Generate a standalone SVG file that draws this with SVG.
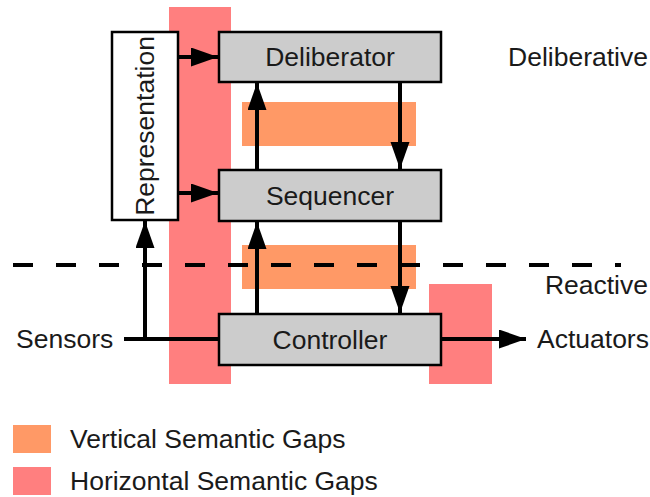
<svg xmlns="http://www.w3.org/2000/svg" width="650" height="497" viewBox="0 0 650 497">
<defs>
<marker id="ah" markerUnits="userSpaceOnUse" markerWidth="28" markerHeight="20" refX="27" refY="9.5" orient="auto">
<path d="M0,0 L27,9.5 L0,19 Z" fill="#000"/>
</marker>
<style>
.txt{font-family:"Liberation Sans",Arial,sans-serif;font-size:26.5px;fill:#1a1a1a}
.box{fill:#cccccc;stroke:#000;stroke-width:2.5}
.hg{fill:#ff7f7f}
.vg{fill:#ff9966}
.ln{stroke:#000;stroke-width:4;fill:none}
.ar{stroke:#000;stroke-width:4;fill:none;marker-end:url(#ah)}
</style>
</defs>
<rect width="650" height="497" fill="#fff"/>
<g id="gaps">
<rect class="hg" x="169" y="7" width="62" height="377"/>
<rect class="hg" x="429" y="284" width="63" height="100"/>
<rect class="vg" x="242" y="102" width="174" height="44"/>
<rect class="vg" x="242" y="245" width="174" height="44"/>
</g>
<line x1="13" y1="265" x2="621" y2="265" stroke="#000" stroke-width="4" stroke-dasharray="20,23"/>
<g id="representation">
<rect x="112" y="32" width="66" height="188" fill="#fff" stroke="#000" stroke-width="2.5"/>
<text class="txt" transform="translate(154,126) rotate(-90)" text-anchor="middle">Representation</text>
</g>
<g id="deliberator">
<rect class="box" x="219" y="32" width="222" height="50"/>
<text class="txt" x="330" y="66" text-anchor="middle">Deliberator</text>
</g>
<g id="sequencer">
<rect class="box" x="219" y="170" width="222" height="51"/>
<text class="txt" x="330" y="205" text-anchor="middle">Sequencer</text>
</g>
<g id="controller">
<rect class="box" x="219" y="314" width="222" height="51"/>
<text class="txt" x="330" y="349" text-anchor="middle">Controller</text>
</g>
<g id="connectors">
<line class="ar" x1="178" y1="57" x2="218" y2="57"/>
<line class="ar" x1="178" y1="193" x2="218" y2="193"/>
<line class="ar" x1="257" y1="170" x2="257" y2="83"/>
<line class="ar" x1="400" y1="82" x2="400" y2="169"/>
<line class="ar" x1="257" y1="314" x2="257" y2="222"/>
<line class="ar" x1="400" y1="221" x2="400" y2="313"/>
<line class="ln" x1="124" y1="339" x2="219" y2="339"/>
<line class="ar" x1="145" y1="339" x2="145" y2="221"/>
<line class="ar" x1="441" y1="339" x2="526" y2="339"/>
</g>
<g id="labels">
<text class="txt" x="648" y="66" text-anchor="end">Deliberative</text>
<text class="txt" x="648" y="294" text-anchor="end">Reactive</text>
<text class="txt" x="16" y="348">Sensors</text>
<text class="txt" x="537" y="348">Actuators</text>
</g>
<g id="legend">
<rect class="vg" x="13" y="425" width="38" height="28"/>
<text class="txt" x="70" y="448">Vertical Semantic Gaps</text>
<rect class="hg" x="13" y="467" width="38" height="28"/>
<text class="txt" x="70" y="490">Horizontal Semantic Gaps</text>
</g>
</svg>
